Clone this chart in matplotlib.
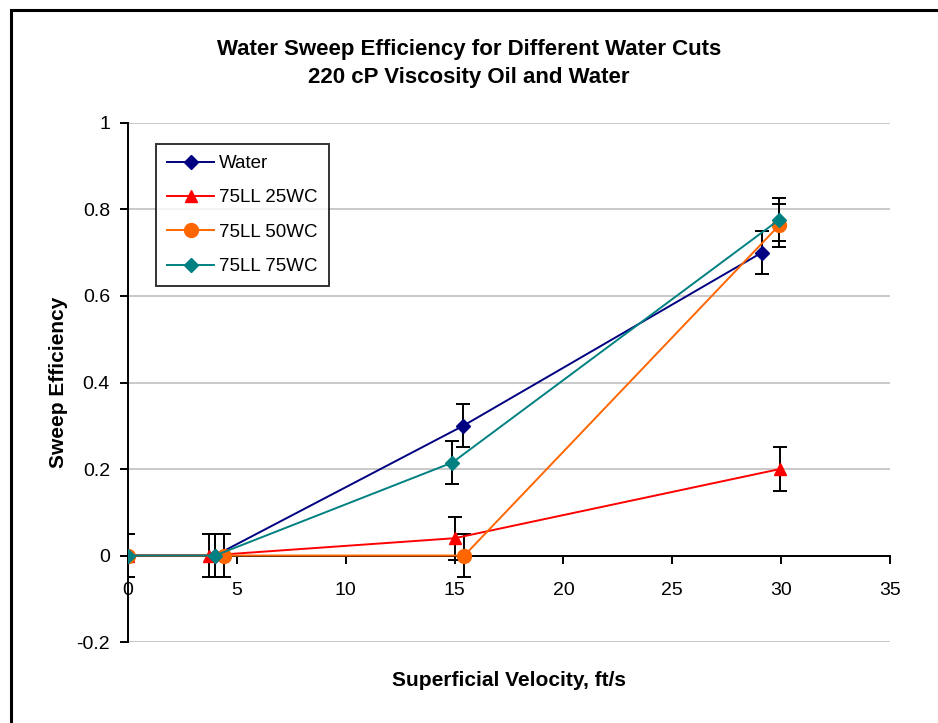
import matplotlib.pyplot as plt
from matplotlib.lines import Line2D

plt.rcParams['font.family'] = ['Liberation Sans', 'DejaVu Sans']

# superficial velocity (ft/s) and sweep efficiency for each run
water_x = [0, 4.0, 15.4, 29.1]
water_y = [0, 0, 0.30, 0.70]
wc25_x = [0, 3.7, 15.0, 29.95]
wc25_y = [0, 0, 0.04, 0.20]
wc50_x = [0, 4.4, 15.45, 29.9]
wc50_y = [0, 0, 0, 0.763]
wc75_x = [0, 4.0, 14.9, 29.9]
wc75_y = [0, 0, 0.215, 0.776]
err = 0.05

series = [
    ('Water', water_x, water_y, '#000080', 'D', 7),
    ('75LL 25WC', wc25_x, wc25_y, '#FF0000', '^', 8),
    ('75LL 50WC', wc50_x, wc50_y, '#FF6600', 'o', 10),
    ('75LL 75WC', wc75_x, wc75_y, '#008080', 'D', 7),
]

fig = plt.figure(figsize=(9.38, 7.23), dpi=100)
ax = fig.add_axes([0.1365, 0.112, 0.8123, 0.7179])

# frame around the chart area (only left/top edges fall inside the image)
fig.add_artist(Line2D([10.5 / 938, 10.5 / 938], [0, 1 - 9.5 / 723],
                      transform=fig.transFigure, color='black', lw=2.2))
fig.add_artist(Line2D([10.5 / 938, 1], [1 - 9.5 / 723, 1 - 9.5 / 723],
                      transform=fig.transFigure, color='black', lw=2.2))

for label, x, y, c, m, ms in series:
    ax.errorbar(x, y, yerr=err, fmt='none', ecolor='black', elinewidth=1.4,
                capsize=5, capthick=1.4, zorder=3)
    ax.plot(x, y, color=c, marker=m, markersize=ms, lw=1.4, label=label,
            zorder=4)

ax.set_xlim(0, 35)
ax.set_ylim(-0.2, 1)
ax.set_xticks(range(0, 36, 5))
ax.set_yticks([-0.2, 0, 0.2, 0.4, 0.6, 0.8, 1])
ax.set_yticklabels(['-0.2', '0', '0.2', '0.4', '0.6', '0.8', '1'])
ax.yaxis.grid(True, color='#C0C0C0', lw=1.2)
ax.set_axisbelow(True)

ax.spines['top'].set_visible(False)
ax.spines['right'].set_visible(False)
ax.spines['bottom'].set_position(('data', 0))
ax.spines['left'].set_linewidth(1.4)
ax.spines['bottom'].set_linewidth(1.4)
ax.tick_params(axis='both', direction='out', length=6, width=1.4,
               labelsize=14, pad=7)
ax.tick_params(axis='x', pad=13)

ax.set_xlabel('Superficial Velocity, ft/s', fontsize=15, fontweight='bold',
              labelpad=0)
ax.xaxis.set_label_coords(0.5, -0.055)
ax.set_ylabel('Sweep Efficiency', fontsize=15, fontweight='bold')
ax.yaxis.set_label_coords(-0.079, 0.5)

fig.text(0.5, 1 - 50 / 723, 'Water Sweep Efficiency for Different Water Cuts',
         ha='center', va='center', fontsize=16, fontweight='bold')
fig.text(0.5, 1 - 78 / 723, '220 cP Viscosity Oil and Water',
         ha='center', va='center', fontsize=16, fontweight='bold')

leg = ax.legend(loc='upper left', bbox_to_anchor=(0.037, 0.96), fontsize=13.5,
                frameon=True, fancybox=False, edgecolor='black',
                handlelength=2.5, labelspacing=0.92, borderpad=0.6,
                handletextpad=0.25, borderaxespad=0)
leg.get_frame().set_linewidth(1.4)

fig.savefig('out.png', dpi=100, facecolor='white')
